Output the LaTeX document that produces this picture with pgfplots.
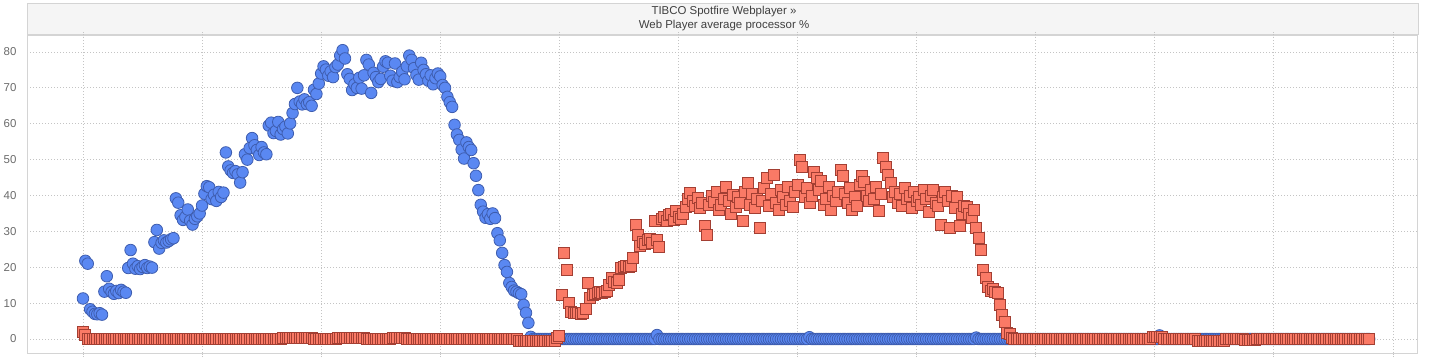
\documentclass[border=0pt]{standalone}
\usepackage{pgfplots}
\usepackage{pgfplotstable}
\pgfplotsset{compat=1.18}
\usepackage{fontspec}
\setmainfont{Liberation Sans}
\definecolor{bluefill}{HTML}{5A88F2}
\definecolor{blueedge}{HTML}{3E5DAF}
\definecolor{redfill}{HTML}{FA7A66}
\definecolor{rededge}{HTML}{A33F33}
\definecolor{gridc}{HTML}{C4C4C4}
\definecolor{framec}{HTML}{D4D4D4}
\definecolor{bandc}{HTML}{F5F5F5}
\definecolor{labc}{HTML}{6B6B6B}

\pgfplotstableread[row sep=\\]{
b r\\
11.3 2.0\\ 21.8 1.2\\ 21.0 0\\ 8.3 0\\ 7.6 0\\ 7.0 0\\ 6.9 0\\ 7.2 0\\ 6.8 0\\ 13.2 0\\
17.5 0\\ 14.0 0\\ 13.1 0\\ 12.6 0\\ 13.4 0\\ 12.8 0\\ 13.7 0\\ 13.2 0\\ 12.9 0\\ 19.8 0\\
24.8 0\\ 21.0 0\\ 19.6 0\\ 20.3 0\\ 19.5 0\\ 20.1 0\\ 20.6 0\\ 19.8 0\\ 20.2 0\\ 19.9 0\\
27.0 0\\ 30.4 0\\ 25.2 0\\ 26.8 0\\ 27.5 0\\ 26.9 0\\ 27.3 0\\ 27.8 0\\ 28.1 0\\ 39.2 0\\
38.0 0\\ 34.5 0\\ 33.2 0\\ 34.0 0\\ 36.1 0\\ 33.0 0\\ 31.9 0\\ 33.5 0\\ 34.2 0\\ 35.0 0\\
37.2 0\\ 40.5 0\\ 42.6 0\\ 42.3 0\\ 39.0 0\\ 40.2 0\\ 38.5 0\\ 41.0 0\\ 39.6 0\\ 40.8 0\\
52.0 0\\ 48.1 0\\ 47.0 0\\ 46.3 0\\ 46.8 0\\ 45.9 0\\ 43.6 0\\ 46.5 0\\ 51.5 0\\ 50.0 0\\
53.2 0\\ 56.0 0\\ 54.0 0\\ 52.7 0\\ 51.3 0\\ 53.5 0\\ 52.0 0\\ 51.5 0\\ 59.5 0\\ 60.3 0\\
57.4 0\\ 58.0 0\\ 60.5 0\\ 57.0 0\\ 58.5 0.4\\ 59.2 0.4\\ 57.3 0.4\\ 60.1 0.4\\ 63.0 0.4\\ 65.5 0.4\\
70.0 0.4\\ 66.2 0.4\\ 65.4 0.4\\ 66.8 0.4\\ 65.5 0.4\\ 66.0 0.4\\ 65.0 0.4\\ 69.5 0\\ 68.3 0\\ 71.2 0\\
74.0 0\\ 76.0 0\\ 75.1 0\\ 73.4 0\\ 74.6 0\\ 73.0 0\\ 75.8 0\\ 76.5 0.4\\ 79.0 0.4\\ 80.5 0.4\\
78.2 0.4\\ 73.8 0.4\\ 72.5 0.4\\ 69.4 0.4\\ 71.0 0.4\\ 70.0 0.4\\ 72.8 0.4\\ 69.8 0.4\\ 73.5 0.4\\ 77.8 0\\
76.5 0\\ 68.6 0\\ 74.2 0\\ 73.0 0\\ 71.6 0\\ 72.5 0\\ 75.9 0\\ 77.4 0\\ 77.0 0\\ 73.4 0\\
72.0 0.3\\ 76.8 0.3\\ 71.6 0.3\\ 73.0 0.3\\ 74.5 0.3\\ 72.4 0.3\\ 76.0 0\\ 79.0 0\\ 77.8 0\\ 75.5 0\\
73.6 0\\ 72.3 0\\ 77.0 0\\ 75.0 0\\ 73.8 0\\ 72.0 0\\ 73.5 0\\ 71.0 0\\ 72.7 0\\ 74.0 0\\
73.2 0\\ 70.8 0\\ 70.0 0\\ 67.5 0\\ 66.0 0\\ 64.7 0\\ 59.7 0\\ 57.0 0\\ 55.5 0\\ 52.8 0\\
50.3 0\\ 54.8 0\\ 53.5 0\\ 52.7 0\\ 49.0 0\\ 45.5 0\\ 41.5 0\\ 37.4 0\\ 35.5 0\\ 33.8 0\\
34.8 0\\ 33.5 0\\ 35.0 0\\ 33.7 0\\ 29.5 0\\ 27.5 0\\ 24.0 0\\ 20.6 0\\ 18.7 0\\ 15.6 0\\
14.5 0\\ 13.5 0\\ 13.2 0\\ 12.8 -0.4\\ 12.5 -0.4\\ 9.5 -0.4\\ 7.3 -0.4\\ 4.5 -0.4\\ 0.6 -0.4\\ 0 -0.4\\
0 -0.4\\ 0 -0.4\\ 0 -0.4\\ 0 -0.4\\ 0 -0.4\\ 0 -0.4\\ 0 -0.4\\ 0 -0.4\\ 0 -0.4\\ 0 0.4\\
0 1.0\\ 0 12.3\\ 0 24.0\\ 0 19.2\\ 0 10.0\\ 0 7.5\\ 0 7.3\\ 0 7.2\\ 0 7.4\\ 0 7.1\\
0 7.3\\ 0 8.4\\ 0 15.6\\ 0 11.5\\ 0 12.3\\ 0 12.6\\ 0 12.9\\ 0 13.0\\ 0 12.8\\ 0 13.2\\
0 13.5\\ 0 15.0\\ 0 17.0\\ 0 16.0\\ 0 15.6\\ 0 16.5\\ 0 19.8\\ 0 20.0\\ 0 20.3\\ 0 20.0\\
0 20.5\\ 0 22.6\\ 0 31.8\\ 0 29.0\\ 0 26.0\\ 0 27.0\\ 0 26.5\\ 0 27.5\\ 0 28.0\\ 0 26.8\\
0 33.0\\ 1.1 27.5\\ 0 25.6\\ 0 33.5\\ 0 34.0\\ 0 32.8\\ 0 34.5\\ 0 35.0\\ 0 33.2\\ 0 35.8\\
0 34.0\\ 0 33.4\\ 0 35.0\\ 0 36.8\\ 0 39.0\\ 0 40.7\\ 0 38.5\\ 0 37.0\\ 0 39.2\\ 0 36.5\\
0 38.0\\ 0 31.5\\ 0 29.0\\ 0 37.5\\ 0 39.8\\ 0 38.2\\ 0 41.0\\ 0 36.0\\ 0 37.5\\ 0 39.0\\
0 42.4\\ 0 38.5\\ 0 35.0\\ 0 40.2\\ 0 36.8\\ 0 39.5\\ 0 38.0\\ 0 33.0\\ 0 41.0\\ 0 43.5\\
0 37.5\\ 0 40.5\\ 0 36.5\\ 0 39.0\\ 0 31.0\\ 0 38.5\\ 0 42.0\\ 0 45.0\\ 0 37.0\\ 0 40.5\\
0 45.7\\ 0 38.0\\ 0 36.0\\ 0 41.5\\ 0 39.5\\ 0 37.5\\ 0 42.5\\ 0 38.5\\ 0 36.8\\ 0 41.0\\
0 43.0\\ 0 49.8\\ 0 48.0\\ 0 39.5\\ 0 42.0\\ 0.5 38.0\\ 0 40.0\\ 0 46.5\\ 0 45.0\\ 0 41.5\\
0 44.0\\ 0 37.5\\ 0 39.0\\ 0 42.5\\ 0 36.0\\ 0 40.0\\ 0 38.5\\ 0 41.0\\ 0 47.0\\ 0 45.5\\
0 40.5\\ 0 38.0\\ 0 42.0\\ 0 36.0\\ 0 39.5\\ 0 37.0\\ 0 43.0\\ 0 45.5\\ 0 43.8\\ 0 40.0\\
0 38.5\\ 0 41.5\\ 0 39.0\\ 0 42.5\\ 0 35.7\\ 0 40.5\\ 0 50.5\\ 0 48.0\\ 0 45.7\\ 0 43.5\\
0 39.5\\ 0 41.0\\ 0 38.0\\ 0 40.5\\ 0 37.0\\ 0 42.0\\ 0 39.0\\ 0 40.0\\ 0 36.5\\ 0 41.0\\
0 38.5\\ 0 39.5\\ 0 37.5\\ 0 41.5\\ 0 39.0\\ 0 35.5\\ 0 40.0\\ 0 41.5\\ 0 38.0\\ 0 37.0\\
0 31.8\\ 0 39.5\\ 0 41.0\\ 0 38.5\\ 0 31.0\\ 0 40.0\\ 0 36.5\\ 0 39.5\\ 0 31.5\\ 0 35.0\\
0 37.0\\ 0 36.8\\ 0 35.0\\ 0 33.7\\ 0 36.0\\ 0.4 31.0\\ 0 28.2\\ 0 24.8\\ 0 19.2\\ 0 17.0\\
0 14.5\\ 0 13.5\\ 0 14.0\\ 0 13.0\\ 0 12.8\\ 0 9.5\\ 0 6.7\\ 0 4.7\\ 0 1.7\\ 0 1.3\\
0 0.3\\ 0 0\\ 0 0\\ 0 0\\ 0 0\\ 0 0\\ 0 0\\ 0 0\\ 0 0\\ 0 0\\
0 0\\ 0 0\\ 0 0\\ 0 0\\ 0 0\\ 0 0\\ 0 0\\ 0 0\\ 0 0\\ 0 0\\
0 0\\ 0 0\\ 0 0\\ 0 0\\ 0 0\\ 0 0\\ 0 0\\ 0 0\\ 0 0\\ 0 0\\
0 0\\ 0 0\\ 0 0\\ 0 0\\ 0 0\\ 0 0\\ 0 0\\ 0 0\\ 0 0\\ 0 0\\
0 0\\ 0 0\\ 0 0\\ 0 0\\ 0 0\\ 0 0\\ 0 0\\ 0 0\\ 0 0\\ 0 0\\
0 0\\ 0 0\\ 0 0\\ 0 0\\ 0 0\\ 0 0\\ 0 0\\ 0 0\\ 0 0\\ 0 0.5\\
0 0.5\\ 0 0.5\\ 1.0 0.5\\ 0 0.5\\ 0 0\\ 0 0\\ 0 0\\ 0 0\\ 0 0\\ 0 0\\
0 0\\ 0 0\\ 0 0\\ 0 0\\ 0 0\\ 0 0\\ 0 0\\ 0 0\\ 0 -0.4\\ 0 -0.4\\
0 -0.4\\ 0 -0.4\\ 0 -0.4\\ 0 -0.4\\ 0 -0.4\\ 0 -0.4\\ 0 -0.4\\ 0 -0.4\\ 0 -0.4\\ 0 -0.4\\
0 0\\ 0 0\\ 0 0\\ 0 0\\ 0 0\\ 0 0\\ 0 0\\ 0 0\\ 0 -0.3\\ 0 -0.3\\
0 -0.3\\ 0 -0.3\\ 0 -0.3\\ 0 0\\ 0 0\\ 0 0\\ 0 0\\ 0 0\\ 0 0\\ 0 0\\
0 0\\ 0 0\\ 0 0\\ 0 0\\ 0 0\\ 0 0\\ 0 0\\ 0 0\\ 0 0\\ 0 0\\
0 0\\ 0 0\\ 0 0\\ 0 0\\ 0 0\\ 0 0\\ 0 0\\ 0 0\\ 0 0\\ 0 0\\
0 0\\ 0 0\\ 0 0\\ 0 0\\ 0 0\\ 0 0\\ 0 0\\ 0 0\\ 0 0\\ 0 0\\
0 0\\ 0 0\\ 0 0\\ 0 0\\ 0 0\\ 0 0\\ 0 0\\ 0 0\\ 0 0\\ 0 0\\
0 0\\
}\data

\begin{document}
\begin{tikzpicture}
\path[use as bounding box] (0,0) rectangle (1430bp,-362bp);
\fill[bandc] (27bp,-3bp) rectangle (1418bp,-35bp);
\draw[framec, line width=1bp] (27bp,-3bp) -- (1418bp,-3bp);
\draw[framec, line width=1.5bp] (27bp,-35bp) -- (1418bp,-35bp);
\draw[framec, line width=1bp] (27bp,-3bp) -- (27bp,-35bp);
\draw[framec, line width=1bp] (1418bp,-3bp) -- (1418bp,-35bp);
\node[font=\fontsize{11.5}{13}\selectfont, text=black!75] at (724bp,-11.5bp) {TIBCO Spotfire Webplayer »};
\node[font=\fontsize{11.5}{13}\selectfont, text=black!75] at (724bp,-25.5bp) {Web Player average processor \%};
\begin{axis}[
  at={(27bp,-353bp)}, anchor=south west,
  scale only axis, width=1391bp, height=317bp,
  xmin=-23.5, xmax=560.5, ymin=-3.9, ymax=84.46,
  axis line style={draw=framec, line width=1bp},
  xtick={0,50,...,550}, xticklabels={},
  ytick={0,10,...,80},
  grid=major,
  major grid style={draw=gridc, line width=0.8bp, dash pattern=on 1bp off 2bp},
  major tick length=4bp, tick align=outside,
  xtick style={draw=gridc, line width=0.8bp, dash pattern=on 1bp off 1bp},
  ytick style={draw=none},
  /pgf/number format/assume math mode=true,
  yticklabel style={font=\fontsize{11.5}{13}\selectfont, text=labc, xshift=-3bp},
  clip=false,
]
\addplot[only marks, mark=*, mark size=5.8bp, mark options={fill=bluefill, draw=blueedge, line width=0.8bp}] table[x expr=\coordindex, y=b] {\data};
\addplot[only marks, mark=square*, mark size=5.5bp, mark options={fill=redfill, draw=rededge, line width=0.8bp}] table[x expr=\coordindex, y=r] {\data};
\end{axis}
\end{tikzpicture}
\end{document}
